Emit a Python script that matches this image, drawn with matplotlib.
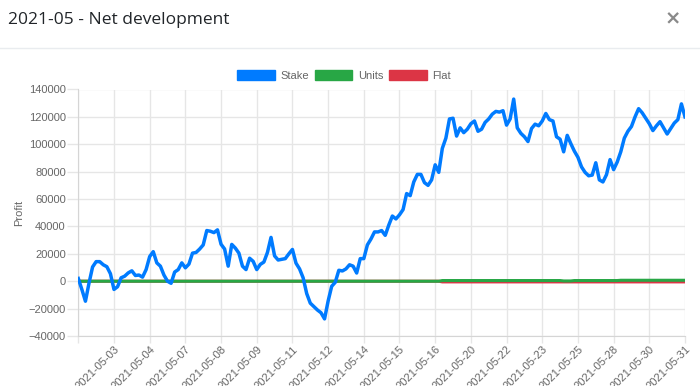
import matplotlib
matplotlib.use("Agg")
import matplotlib.pyplot as plt
from matplotlib.patches import Patch
from matplotlib.lines import Line2D

# tick labels shown on the category axis (one every 10 points)
tick_dates = ["2021-05-03", "2021-05-04", "2021-05-07", "2021-05-08", "2021-05-09",
              "2021-05-11", "2021-05-12", "2021-05-14", "2021-05-15", "2021-05-16",
              "2021-05-20", "2021-05-22", "2021-05-23", "2021-05-25", "2021-05-28",
              "2021-05-30", "2021-05-31"]

stake = [
    2000, -6000, -14600, -1400, 10400, 14300, 14300, 12000, 10600, 5500,
    -6000, -4000, 2500, 3700, 6100, 7600, 4200, 4500, 3000, 8500,
    18000, 21600, 13400, 11000, 4500, 0, -1500, 6700, 8500, 13400,
    9800, 12500, 20500, 21000, 23500, 26500, 37000, 36500, 35500, 37500,
    27000, 23500, 11000, 26900, 24200, 20500, 11000, 8500, 16800, 14500,
    8500, 12300, 14000, 21000, 32000, 18500, 15500, 16000, 16500, 20000,
    23200, 13200, 9000, 2500, -9000, -16000, -18500, -21000, -23000, -27500,
    -14500, -3700, -800, 8000, 7500, 9000, 12000, 11000, 6000, 16500,
    16500, 26500, 30800, 36000, 36000, 37000, 33500, 41000, 47600, 45500,
    48500, 52300, 64000, 62500, 72500, 78000, 78000, 72000, 70000, 74000,
    85000, 79500, 97000, 104500, 118500, 119000, 106000, 112000, 108500, 111000,
    115000, 117000, 109500, 111000, 116000, 118500, 122000, 124000, 123500, 124500,
    114000, 118500, 133000, 112000, 108000, 105500, 102000, 111500, 114700, 113500,
    117000, 122500, 118000, 117000, 105500, 103700, 94500, 106500, 100500, 95000,
    90500, 83500, 79500, 77000, 77500, 86500, 74000, 72500, 77800, 88800,
    81500, 87000, 94500, 104500, 109500, 113000, 120000, 126000, 123000, 119000,
    115000, 110000, 113500, 116500, 112000, 107500, 111500, 115500, 118000, 129500,
    120000,
]

units = [
    0, 0, 0, 0, 0, 0, 0, 0, 0, 0, 0, 0, 0, 0, 0, 0, 0, 0, 0, 0,
    0, 0, 0, 0, 0, 0, 0, 0, 0, 0, 0, 0, 0, 0, 0, 0, 0, 0, 0, 0,
    0, 0, 0, 0, 0, 0, 0, 0, 0, 0, 0, 0, 0, 0, 0, 0, 0, 0, 0, 0,
    0, 0, 0, 0, 0, 0, 0, 0, 0, 0, 0, 0, 0, 0, 0, 0, 0, 0, 0, 0,
    0, 0, 0, 0, 0, 0, 0, 0, 0, 0, 0, 0, 0, 0, 0, 0, 0, 0, 0, 0,
    0, 0, 500, 500, 500, 500, 500, 500, 500, 500, 500, 500, 500, 500, 500, 500, 500, 500, 500, 500,
    500, 500, 500, 500, 500, 500, 500, 500, 500, 500, 500, 500, 500, 500, 500, 500, 200, 200, 200, 500,
    500, 500, 500, 500, 500, 500, 500, 500, 500, 500, 500, 500, 700, 700, 700, 700, 700, 700, 700, 700,
    700, 700, 700, 700, 700, 700, 700, 700, 700, 700, 700,
]

flat = [
    0, 0, 0, 0, 0, 0, 0, 0, 0, 0, 0, 0, 0, 0, 0, 0, 0, 0, 0, 0,
    0, 0, 0, 0, 0, 0, 0, 0, 0, 0, 0, 0, 0, 0, 0, 0, 0, 0, 0, 0,
    0, 0, 0, 0, 0, 0, 0, 0, 0, 0, 0, 0, 0, 0, 0, 0, 0, 0, 0, 0,
    0, 0, 0, 0, 0, 0, 0, 0, 0, 0, 0, 0, 0, 0, 0, 0, 0, 0, 0, 0,
    0, 0, 0, 0, 0, 0, 0, 0, 0, 0, 0, 0, 0, 0, 0, 0, 0, 0, 0, 0,
    0, 0, -500, -500, -500, -500, -500, -500, -500, -500, -500, -500, -500, -500, -500, -500, -500, -500, -500, -500,
    -500, -500, -500, -500, -500, -500, -500, -500, -500, -500, -500, -500, -500, -500, -500, -500, -500, -500, -500, -500,
    -500, -500, -500, -500, -500, -500, -500, -500, -500, -500, -500, -500, -500, -500, -500, -500, -500, -500, -500, -500,
    -500, -500, -500, -500, -500, -500, -500, -500, -500, -500, -500,
]

BLUE = "#007bff"
GREEN = "#28a745"
RED = "#dc3545"
GRID = "#e6e6e6"
TXT = "#666666"

plt.rcParams["font.family"] = ["Liberation Sans", "DejaVu Sans"]

fig = plt.figure(figsize=(7.0, 3.86), dpi=100)
fig.patch.set_facecolor("white")

# modal header
fig.text(8 / 700, 1 - 20 / 386, "2021-05 - Net development", family="Open Sans",
         fontsize=12.5, color="#212529", va="center", ha="left")
fig.text(673 / 700, 1 - 19 / 386, "\u00d7", family="DejaVu Sans", fontsize=14,
         color="#8a8a8a", va="center", ha="center", weight="bold")
fig.add_artist(Line2D([0, 1], [1 - 47.5 / 386, 1 - 47.5 / 386], color="#e9ecef", lw=1))

ax = fig.add_axes([78.3 / 700, 1 - 336 / 386, (685 - 78.3) / 700, (336 - 89.5) / 386])

x = list(range(len(stake)))
ax.plot(x, flat, color=RED, lw=2.2, zorder=3, solid_joinstyle="round")
ax.plot(x, units, color=GREEN, lw=2.2, zorder=4, solid_joinstyle="round")
ax.plot(x, stake, color=BLUE, lw=2.5, zorder=5, solid_joinstyle="round")

ax.set_xlim(0, len(stake) - 1)
ax.set_ylim(-40000, 140000)
ax.set_yticks(range(-40000, 140001, 20000))
ax.set_xticks(range(0, len(stake), 10))
ax.set_xticklabels([""] + tick_dates, rotation=45, ha="right", rotation_mode="anchor")

ax.grid(True, color=GRID, lw=1)
ax.set_axisbelow(True)
for side in ["left", "bottom"]:
    ax.spines[side].set_color("#d5d5d5")
for side in ["top", "right"]:
    ax.spines[side].set_visible(False)
ax.tick_params(axis="both", width=1, color=GRID, labelsize=8, labelcolor=TXT)
ax.tick_params(axis="y", length=8, pad=1)
ax.tick_params(axis="x", length=5, pad=1)
ax.set_ylabel("Profit", fontsize=8, color=TXT, labelpad=3)

handles = [Patch(facecolor=BLUE, edgecolor=BLUE, label="Stake"),
           Patch(facecolor=GREEN, edgecolor=GREEN, label="Units"),
           Patch(facecolor=RED, edgecolor=RED, label="Flat")]
leg = fig.legend(handles=handles, loc="center", bbox_to_anchor=(344 / 700, 1 - 75.5 / 386),
                 ncol=3, frameon=False, fontsize=8, handlelength=3.4, handleheight=1.05,
                 handletextpad=0.5, columnspacing=0.5, borderpad=0)
for t in leg.get_texts():
    t.set_color(TXT)

fig.savefig("out.png", dpi=100)
